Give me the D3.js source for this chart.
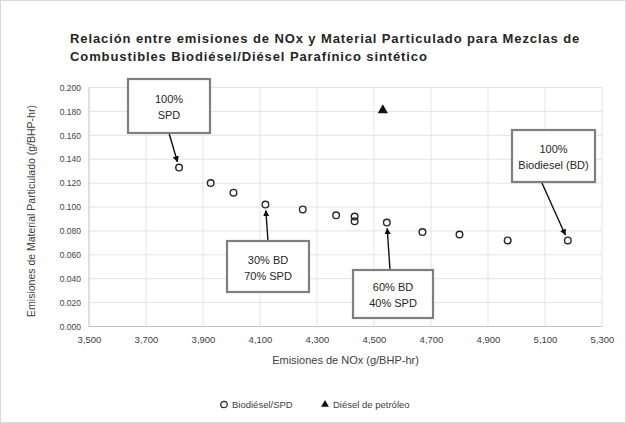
<!DOCTYPE html>
<html>
<head>
<meta charset="utf-8">
<script src="https://cdn.jsdelivr.net/npm/d3@7"></script>
<style>
  body { margin: 0; background: #fff; }
  text { font-family: "Liberation Sans", Arial, sans-serif; }
</style>
</head>
<body>
<script>
// Biodiésel/SPD blends
let noxBlend = [3816, 3927, 4007, 4119, 4250, 4367, 4432, 4432, 4545, 4670, 4800, 4969, 5180];
let pmBlend = [0.133, 0.120, 0.112, 0.102, 0.098, 0.093, 0.092, 0.088, 0.087, 0.079, 0.077, 0.072, 0.072];
// Diésel de petróleo
let noxDiesel = [4531];
let pmDiesel = [0.181];

let xTicks = [3500, 3700, 3900, 4100, 4300, 4500, 4700, 4900, 5100, 5300];
let yTicks = [0, 0.02, 0.04, 0.06, 0.08, 0.10, 0.12, 0.14, 0.16, 0.18, 0.20];

// callouts: text lines + index of blend point
let notes = [
  { lines: ["100%", "SPD"], idx: 0, box: [128, 79, 82, 54], off: 0 },
  { lines: ["30% BD", "70% SPD"], idx: 3, box: [227, 241, 82, 51], off: 0 },
  { lines: ["60% BD", "40% SPD"], idx: 8, box: [353, 270, 80, 48], off: -3 },
  { lines: ["100%", "Biodiesel (BD)"], idx: 12, box: [512, 130, 83, 52], off: -12 }
];

var width = 626,
    height = 423;

let svg = d3.select("body")
  .append("svg")
  .attr("width", width)
  .attr("height", height);

svg.append("rect")
  .attr("x", 0.5).attr("y", 0.5)
  .attr("width", width - 1).attr("height", height - 1)
  .attr("fill", "#fff").attr("stroke", "#d9d9d9");

let x = d3.scaleLinear().domain([3500, 5300]).range([89, 602]);
let y = d3.scaleLinear().domain([0, 0.2]).range([326.5, 87.5]);

// grid
svg.append("g").selectAll("line")
  .data(yTicks).enter().append("line")
  .attr("x1", x(3500)).attr("x2", x(5300))
  .attr("y1", d => y(d)).attr("y2", d => y(d))
  .attr("stroke", d => d === 0 ? "#bfbfbf" : "#e3e3e3");

svg.append("g").selectAll("line")
  .data(xTicks).enter().append("line")
  .attr("y1", y(0)).attr("y2", y(0.2))
  .attr("x1", d => x(d)).attr("x2", d => x(d))
  .attr("stroke", d => d === 3500 ? "#bfbfbf" : "#e3e3e3");

// axes
let xAxis = svg.append("g")
  .attr("transform", "translate(0," + y(0) + ")")
  .call(d3.axisBottom(x).tickValues(xTicks).tickSize(0).tickPadding(10).tickFormat(d3.format(",")));
xAxis.select(".domain").remove();
xAxis.selectAll("text").attr("font-size", 9.5).attr("fill", "#404040");

let yAxis = svg.append("g")
  .attr("transform", "translate(" + x(3500) + ",0)")
  .call(d3.axisLeft(y).tickValues(yTicks).tickSize(0).tickPadding(8).tickFormat(d3.format(".3f")));
yAxis.select(".domain").remove();
yAxis.selectAll("text").attr("font-size", 8.5).attr("fill", "#404040");

// titles
let title = svg.append("text")
  .attr("x", 70).attr("y", 43)
  .attr("font-size", 13).attr("font-weight", "bold").attr("fill", "#262626")
  .attr("letter-spacing", 0.9);
title.append("tspan").text("Relación entre emisiones de NOx y Material Particulado para Mezclas de");
title.append("tspan").attr("x", 70).attr("dy", 18).text("Combustibles Biodiésel/Diésel Parafínico sintético");

svg.append("text")
  .attr("x", (x(3500) + x(5300)) / 2).attr("y", 364)
  .attr("text-anchor", "middle").attr("font-size", 11).attr("fill", "#404040")
  .text("Emisiones de NOx (g/BHP-hr)");

svg.append("text")
  .attr("transform", "translate(35," + (y(0.1) + 4) + ") rotate(-90)")
  .attr("text-anchor", "middle").attr("font-size", 10.5).attr("fill", "#404040")
  .text("Emisiones de Material Particulado (g/BHP-hr)");

// points
svg.append("g").selectAll("circle")
  .data(noxBlend).enter().append("circle")
  .attr("cx", d => x(d))
  .attr("cy", (d, i) => y(pmBlend[i]))
  .attr("r", 3.3)
  .attr("fill", "none").attr("stroke", "#262626").attr("stroke-width", 1.4);

let tri = d3.symbol().type(d3.symbolTriangle).size(45);
svg.append("g").selectAll("path")
  .data(noxDiesel).enter().append("path")
  .attr("d", tri)
  .attr("transform", (d, i) => "translate(" + x(d) + "," + y(pmDiesel[i]) + ")")
  .attr("fill", "#111");

// callouts
svg.append("defs").append("marker")
  .attr("id", "arr").attr("viewBox", "0 0 10 10")
  .attr("refX", 9).attr("refY", 5)
  .attr("markerWidth", 4.5).attr("markerHeight", 4.5)
  .attr("orient", "auto")
  .append("path").attr("d", "M0,0L10,5L0,10z").attr("fill", "#111");

notes.forEach(function(n) {
  let bx = n.box[0], by = n.box[1], bw = n.box[2], bh = n.box[3];
  let px = x(noxBlend[n.idx]), py = y(pmBlend[n.idx]);
  let sx = bx + bw / 2 + n.off;
  let sy = py > by + bh ? by + bh : by;
  let dx = px - sx, dy = py - sy, len = Math.sqrt(dx * dx + dy * dy);
  let ex = px - dx / len * 6, ey = py - dy / len * 6;
  svg.append("line")
    .attr("x1", sx).attr("y1", sy).attr("x2", ex).attr("y2", ey)
    .attr("stroke", "#111").attr("stroke-width", 1.4)
    .attr("marker-end", "url(#arr)");
  svg.append("rect")
    .attr("x", bx).attr("y", by).attr("width", bw).attr("height", bh)
    .attr("fill", "#fff").attr("stroke", "#7f7f7f").attr("stroke-width", 2.2);
  let t = svg.append("text")
    .attr("text-anchor", "middle").attr("font-size", 11).attr("fill", "#262626");
  n.lines.forEach(function(l, j) {
    t.append("tspan").attr("x", bx + bw / 2)
      .attr("y", by + bh / 2 - 3 + j * 16)
      .text(l);
  });
});

// legend
let lg = svg.append("g").attr("transform", "translate(224,408)");
lg.append("circle").attr("cx", 0).attr("cy", -3.5).attr("r", 3.2)
  .attr("fill", "none").attr("stroke", "#262626").attr("stroke-width", 1.3);
lg.append("text").attr("x", 8).attr("y", 0).attr("font-size", 9.5).attr("fill", "#404040").text("Biodiésel/SPD");
lg.append("path").attr("d", d3.symbol().type(d3.symbolTriangle).size(26))
  .attr("transform", "translate(101,-3.5)").attr("fill", "#111");
lg.append("text").attr("x", 109).attr("y", 0).attr("font-size", 9.5).attr("fill", "#404040").text("Diésel de petróleo");
</script>
</body>
</html>
